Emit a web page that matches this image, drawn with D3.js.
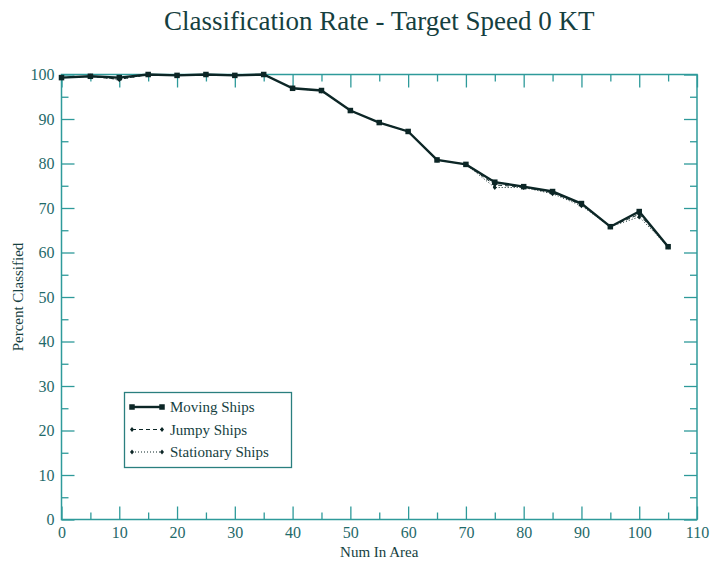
<!DOCTYPE html>
<html>
<head>
<meta charset="utf-8">
<script src="https://cdn.jsdelivr.net/npm/d3@7"></script>
<style>
  html, body { margin: 0; padding: 0; background: #fff; }
  svg { display: block; }
  svg text { font-family: "Liberation Serif", "DejaVu Serif", serif; }
</style>
</head>
<body>
<svg id="chart" width="715" height="566"></svg>
<script>
// Number of ships in the area (x) and classification rate per ship type (%)
const numInArea = [0, 5, 10, 15, 20, 25, 30, 35, 40, 45, 50, 55, 60, 65, 70, 75, 80, 85, 90, 95, 100, 105];
const movingShips = [99.3, 99.6, 99.3, 100, 99.8, 100, 99.8, 100, 96.9, 96.4, 91.9, 89.2, 87.2, 80.8, 79.8, 75.8, 74.8, 73.7, 71.0, 65.8, 69.2, 61.3];
const jumpyShips = [99.3, 99.6, 98.9, 100, 99.8, 100, 99.8, 100, 96.9, 96.4, 91.9, 89.2, 87.2, 80.8, 79.8, 75.2, 74.7, 73.4, 70.8, 65.8, 68.6, 61.3];
const stationaryShips = [99.3, 99.6, 98.9, 100, 99.8, 100, 99.8, 100, 96.9, 96.3, 91.9, 89.2, 87.2, 80.8, 79.8, 74.6, 74.6, 73.2, 70.5, 65.8, 68.0, 61.3];

const xTicks = d3.range(0, 111, 10);
const yTicks = d3.range(0, 101, 10);
const seriesNames = ["Moving Ships", "Jumpy Ships", "Stationary Ships"];

const titleText = "Classification Rate - Target Speed 0 KT";
const xLabel = "Num In Area";
const yLabel = "Percent Classified";

const axisColor = "#2e9a9a";
const textColor = "#1f6a6a";
const titleColor = "#163f3f";
const lineColor = "#0c2626";

const svg = d3.select("#chart");
const m = { left: 61.5, right: 697, top: 74.5, bottom: 519.5 };

const x = d3.scaleLinear().domain([0, 110]).range([m.left, m.right]);
const y = d3.scaleLinear().domain([0, 100]).range([m.bottom, m.top]);

// Title
svg.append("text")
  .attr("x", (m.left + m.right) / 2)
  .attr("y", 30)
  .attr("text-anchor", "middle")
  .attr("font-size", 27)
  .attr("fill", titleColor)
  .text(titleText);

// Axes: ticks point inward on all four sides, minor ticks every 5
function styleAxis(g) {
  g.select(".domain").remove();
  g.selectAll("line").attr("stroke", axisColor).attr("stroke-width", 1.3);
  g.selectAll("text").attr("fill", textColor).attr("font-size", 16);
}

const xMinor = d3.range(5, 110, 10);
const yMinor = d3.range(5, 100, 10);

// bottom
svg.append("g").attr("transform", `translate(0,${m.bottom})`)
  .call(d3.axisBottom(x).tickValues(xTicks).tickSize(-13).tickPadding(7).tickFormat(d3.format("d")))
  .call(styleAxis);
svg.append("g").attr("transform", `translate(0,${m.bottom})`)
  .call(d3.axisBottom(x).tickValues(xMinor).tickSize(-7).tickFormat(""))
  .call(styleAxis);
// top
svg.append("g").attr("transform", `translate(0,${m.top})`)
  .call(d3.axisTop(x).tickValues(xTicks).tickSize(-13).tickFormat(""))
  .call(styleAxis);
svg.append("g").attr("transform", `translate(0,${m.top})`)
  .call(d3.axisTop(x).tickValues(xMinor).tickSize(-7).tickFormat(""))
  .call(styleAxis);
// left
svg.append("g").attr("transform", `translate(${m.left},0)`)
  .call(d3.axisLeft(y).tickValues(yTicks).tickSize(-13).tickPadding(7).tickFormat(d3.format("d")))
  .call(styleAxis);
svg.append("g").attr("transform", `translate(${m.left},0)`)
  .call(d3.axisLeft(y).tickValues(yMinor).tickSize(-7).tickFormat(""))
  .call(styleAxis);
// right
svg.append("g").attr("transform", `translate(${m.right},0)`)
  .call(d3.axisRight(y).tickValues(yTicks).tickSize(-13).tickFormat(""))
  .call(styleAxis);
svg.append("g").attr("transform", `translate(${m.right},0)`)
  .call(d3.axisRight(y).tickValues(yMinor).tickSize(-7).tickFormat(""))
  .call(styleAxis);

// Frame
svg.append("rect")
  .attr("x", m.left).attr("y", m.top)
  .attr("width", m.right - m.left).attr("height", m.bottom - m.top)
  .attr("fill", "none").attr("stroke", axisColor).attr("stroke-width", 1.5);

// Axis titles
svg.append("text")
  .attr("x", (m.left + m.right) / 2).attr("y", 557)
  .attr("text-anchor", "middle").attr("font-size", 15)
  .attr("fill", titleColor).text(xLabel);
svg.append("text")
  .attr("transform", `translate(23,${(m.top + m.bottom) / 2}) rotate(-90)`)
  .attr("text-anchor", "middle").attr("font-size", 15)
  .attr("fill", titleColor).text(yLabel);

// Series
const series = [
  { name: seriesNames[0], values: movingShips, width: 2.4, dash: null, marker: "square", size: 5.5 },
  { name: seriesNames[1], values: jumpyShips, width: 1, dash: "4,3", marker: "diamond", size: 4 },
  { name: seriesNames[2], values: stationaryShips, width: 1, dash: "1,2", marker: "diamond", size: 4 }
];

const line = d3.line().x(d => x(d[0])).y(d => y(d[1]));

function drawMarker(g, cx, cy, s) {
  const h = s.size / 2;
  if (s.marker === "square") {
    g.append("rect").attr("x", cx - h).attr("y", cy - h)
      .attr("width", s.size).attr("height", s.size).attr("fill", lineColor);
  } else {
    g.append("path")
      .attr("d", `M${cx},${cy - h - 0.5}L${cx + h},${cy}L${cx},${cy + h + 0.5}L${cx - h},${cy}Z`)
      .attr("fill", lineColor);
  }
}

// draw thin series first, moving ships on top
[...series].reverse().forEach(s => {
  const pts = numInArea.map((v, i) => [v, s.values[i]]);
  const g = svg.append("g");
  g.append("path").datum(pts)
    .attr("d", line).attr("fill", "none")
    .attr("stroke", lineColor).attr("stroke-width", s.width)
    .attr("stroke-dasharray", s.dash);
  pts.forEach(p => drawMarker(g, x(p[0]), y(p[1]), s));
});

// Legend
const lg = svg.append("g");
lg.append("rect")
  .attr("x", 124.5).attr("y", 392.5).attr("width", 167).attr("height", 75)
  .attr("fill", "#fff").attr("stroke", "#2a7f7f").attr("stroke-width", 1.3);
const rowY = [407, 429.5, 452];
series.forEach((s, i) => {
  const yy = rowY[i];
  lg.append("line").attr("x1", 132).attr("x2", 162).attr("y1", yy).attr("y2", yy)
    .attr("stroke", lineColor).attr("stroke-width", s.width)
    .attr("stroke-dasharray", s.dash);
  drawMarker(lg, 132, yy, s);
  drawMarker(lg, 162, yy, s);
  lg.append("text").attr("x", 170).attr("y", yy + 5)
    .attr("font-size", 15).attr("fill", titleColor).text(s.name);
});
</script>
</body>
</html>
